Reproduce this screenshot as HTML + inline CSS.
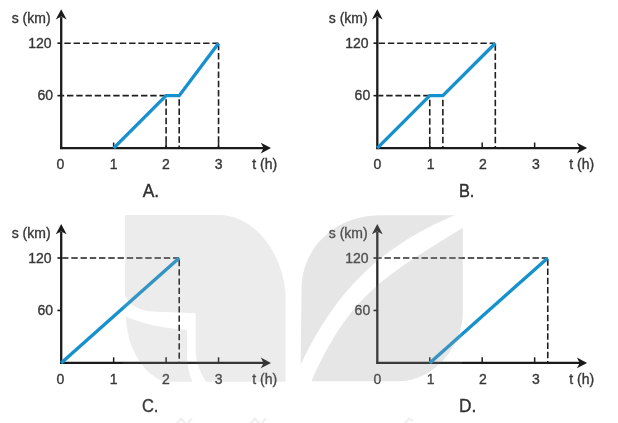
<!DOCTYPE html>
<html><head><meta charset="utf-8"><style>
html,body{margin:0;padding:0;background:#fff;}
svg{display:block;will-change:transform;filter:blur(0.3px);}
text{font-family:'Liberation Sans', Arial, sans-serif;stroke-width:0.35px;}
</style></head><body>
<svg width="618" height="423" viewBox="0 0 618 423">
<rect width="618" height="423" fill="#fff"/>
<line x1="62.20" y1="43.20" x2="218.55" y2="43.20" stroke="#1e1e1e" stroke-width="1.6" stroke-dasharray="6.4 2.85" stroke-dashoffset="7.10"/>
<line x1="62.20" y1="95.65" x2="179.21" y2="95.65" stroke="#1e1e1e" stroke-width="1.6" stroke-dasharray="6.4 2.85" stroke-dashoffset="4.45"/>
<line x1="166.10" y1="96.45" x2="166.10" y2="147.1" stroke="#1e1e1e" stroke-width="1.6" stroke-dasharray="6.4 2.85" stroke-dashoffset="6.45"/>
<line x1="179.21" y1="96.45" x2="179.21" y2="147.1" stroke="#1e1e1e" stroke-width="1.6" stroke-dasharray="6.4 2.85" stroke-dashoffset="6.45"/>
<line x1="218.55" y1="44.00" x2="218.55" y2="147.1" stroke="#1e1e1e" stroke-width="1.6" stroke-dasharray="6.4 2.85" stroke-dashoffset="0.25"/>
<line x1="57.40" y1="95.65" x2="61.2" y2="95.65" stroke="#1a1a1a" stroke-width="1.6"/>
<line x1="57.40" y1="43.20" x2="61.2" y2="43.20" stroke="#1a1a1a" stroke-width="1.6"/>
<line x1="113.65" y1="148.1" x2="113.65" y2="142.5" stroke="#1a1a1a" stroke-width="1.5"/>
<line x1="166.10" y1="148.1" x2="166.10" y2="142.5" stroke="#1a1a1a" stroke-width="1.5"/>
<line x1="218.55" y1="148.1" x2="218.55" y2="142.5" stroke="#1a1a1a" stroke-width="1.5"/>
<line x1="61.2" y1="149.1" x2="61.2" y2="17.10" stroke="#1a1a1a" stroke-width="2.3"/>
<line x1="60.2" y1="148.1" x2="264.2" y2="148.1" stroke="#1a1a1a" stroke-width="2.3"/>
<path d="M61.2,9.20 L66.60,19.40 L61.2,16.60 L55.80,19.40 Z" fill="#1a1a1a"/>
<path d="M271.0,148.1 L260.8,142.7 L263.6,148.1 L260.8,153.5 Z" fill="#1a1a1a"/>
<polyline points="113.65,148.10 166.10,95.65 179.21,95.65 218.55,43.20" fill="none" stroke="#1791cd" stroke-width="3.4" stroke-linejoin="miter" stroke-linecap="butt"/>
<text x="11.70" y="23.0" font-size="14" fill="#363636" stroke="#363636">s (km)</text>
<text x="51.5" y="48.0" font-size="14" fill="#363636" stroke="#363636" text-anchor="end">120</text>
<text x="53.1" y="100.3" font-size="14" fill="#363636" stroke="#363636" text-anchor="end">60</text>
<text x="60.40" y="168.9" font-size="14" fill="#363636" stroke="#363636" text-anchor="middle">0</text>
<text x="113.55" y="168.9" font-size="14" fill="#363636" stroke="#363636" text-anchor="middle">1</text>
<text x="165.80" y="168.9" font-size="14" fill="#363636" stroke="#363636" text-anchor="middle">2</text>
<text x="218.75" y="168.9" font-size="14" fill="#363636" stroke="#363636" text-anchor="middle">3</text>
<text x="252.2" y="168.9" font-size="14" fill="#363636" stroke="#363636">t (h)</text>
<text transform="translate(142.70,197.0) scale(0.98,1)" font-size="17.8" fill="#2e2e2e" stroke="#2e2e2e">A.</text>
<line x1="378.30" y1="43.20" x2="495.31" y2="43.20" stroke="#1e1e1e" stroke-width="1.6" stroke-dasharray="6.4 2.85" stroke-dashoffset="8.90"/>
<line x1="378.30" y1="95.65" x2="442.86" y2="95.65" stroke="#1e1e1e" stroke-width="1.6" stroke-dasharray="6.4 2.85" stroke-dashoffset="1.35"/>
<line x1="429.75" y1="96.45" x2="429.75" y2="147.1" stroke="#1e1e1e" stroke-width="1.6" stroke-dasharray="6.4 2.85" stroke-dashoffset="5.85"/>
<line x1="442.86" y1="96.45" x2="442.86" y2="147.1" stroke="#1e1e1e" stroke-width="1.6" stroke-dasharray="6.4 2.85" stroke-dashoffset="5.85"/>
<line x1="495.31" y1="44.00" x2="495.31" y2="147.1" stroke="#1e1e1e" stroke-width="1.6" stroke-dasharray="6.4 2.85" stroke-dashoffset="9.00"/>
<line x1="373.5" y1="95.65" x2="377.3" y2="95.65" stroke="#1a1a1a" stroke-width="1.6"/>
<line x1="373.5" y1="43.20" x2="377.3" y2="43.20" stroke="#1a1a1a" stroke-width="1.6"/>
<line x1="429.75" y1="148.1" x2="429.75" y2="142.5" stroke="#1a1a1a" stroke-width="1.5"/>
<line x1="482.20" y1="148.1" x2="482.20" y2="142.5" stroke="#1a1a1a" stroke-width="1.5"/>
<line x1="534.65" y1="148.1" x2="534.65" y2="142.5" stroke="#1a1a1a" stroke-width="1.5"/>
<line x1="377.3" y1="149.1" x2="377.3" y2="17.10" stroke="#1a1a1a" stroke-width="2.3"/>
<line x1="376.3" y1="148.1" x2="580.3" y2="148.1" stroke="#1a1a1a" stroke-width="2.3"/>
<path d="M377.3,9.20 L382.7,19.40 L377.3,16.60 L371.90,19.40 Z" fill="#1a1a1a"/>
<path d="M587.1,148.1 L576.9,142.7 L579.7,148.1 L576.9,153.5 Z" fill="#1a1a1a"/>
<polyline points="377.30,148.10 429.75,95.65 442.86,95.65 495.31,43.20" fill="none" stroke="#1791cd" stroke-width="3.4" stroke-linejoin="miter" stroke-linecap="butt"/>
<text x="328.8" y="23.0" font-size="14" fill="#363636" stroke="#363636">s (km)</text>
<text x="368.6" y="48.0" font-size="14" fill="#363636" stroke="#363636" text-anchor="end">120</text>
<text x="370.2" y="100.3" font-size="14" fill="#363636" stroke="#363636" text-anchor="end">60</text>
<text x="377.50" y="168.9" font-size="14" fill="#363636" stroke="#363636" text-anchor="middle">0</text>
<text x="430.65" y="168.9" font-size="14" fill="#363636" stroke="#363636" text-anchor="middle">1</text>
<text x="482.90" y="168.9" font-size="14" fill="#363636" stroke="#363636" text-anchor="middle">2</text>
<text x="535.85" y="168.9" font-size="14" fill="#363636" stroke="#363636" text-anchor="middle">3</text>
<text x="569.3" y="168.9" font-size="14" fill="#363636" stroke="#363636">t (h)</text>
<text transform="translate(458.90,197.0) scale(0.92,1)" font-size="17.8" fill="#2e2e2e" stroke="#2e2e2e">B.</text>
<line x1="62.20" y1="258.00" x2="179.21" y2="258.00" stroke="#1e1e1e" stroke-width="1.6" stroke-dasharray="6.4 2.85" stroke-dashoffset="0.15"/>
<line x1="179.21" y1="258.80" x2="179.21" y2="361.9" stroke="#1e1e1e" stroke-width="1.6" stroke-dasharray="6.4 2.85" stroke-dashoffset="8.10"/>
<line x1="57.40" y1="310.45" x2="61.2" y2="310.45" stroke="#1a1a1a" stroke-width="1.6"/>
<line x1="57.40" y1="258.00" x2="61.2" y2="258.00" stroke="#1a1a1a" stroke-width="1.6"/>
<line x1="113.65" y1="362.9" x2="113.65" y2="357.30" stroke="#1a1a1a" stroke-width="1.5"/>
<line x1="166.10" y1="362.9" x2="166.10" y2="357.30" stroke="#1a1a1a" stroke-width="1.5"/>
<line x1="218.55" y1="362.9" x2="218.55" y2="357.30" stroke="#1a1a1a" stroke-width="1.5"/>
<line x1="61.2" y1="363.9" x2="61.2" y2="231.90" stroke="#1a1a1a" stroke-width="2.3"/>
<line x1="60.2" y1="362.9" x2="264.2" y2="362.9" stroke="#1a1a1a" stroke-width="2.3"/>
<path d="M61.2,224.00 L66.60,234.20 L61.2,231.40 L55.80,234.20 Z" fill="#1a1a1a"/>
<path d="M271.0,362.9 L260.8,357.5 L263.6,362.9 L260.8,368.30 Z" fill="#1a1a1a"/>
<polyline points="61.20,362.90 179.21,258.00" fill="none" stroke="#1791cd" stroke-width="3.4" stroke-linejoin="miter" stroke-linecap="butt"/>
<text x="11.70" y="237.8" font-size="14" fill="#363636" stroke="#363636">s (km)</text>
<text x="51.5" y="262.8" font-size="14" fill="#363636" stroke="#363636" text-anchor="end">120</text>
<text x="53.1" y="315.1" font-size="14" fill="#363636" stroke="#363636" text-anchor="end">60</text>
<text x="60.40" y="383.7" font-size="14" fill="#363636" stroke="#363636" text-anchor="middle">0</text>
<text x="113.55" y="383.7" font-size="14" fill="#363636" stroke="#363636" text-anchor="middle">1</text>
<text x="165.80" y="383.7" font-size="14" fill="#363636" stroke="#363636" text-anchor="middle">2</text>
<text x="218.75" y="383.7" font-size="14" fill="#363636" stroke="#363636" text-anchor="middle">3</text>
<text x="252.2" y="383.7" font-size="14" fill="#363636" stroke="#363636">t (h)</text>
<text transform="translate(141.90,411.8) scale(0.93,1)" font-size="17.8" fill="#2e2e2e" stroke="#2e2e2e">C.</text>
<line x1="378.30" y1="258.00" x2="547.76" y2="258.00" stroke="#1e1e1e" stroke-width="1.6" stroke-dasharray="6.4 2.85" stroke-dashoffset="3.05"/>
<line x1="547.76" y1="258.80" x2="547.76" y2="361.9" stroke="#1e1e1e" stroke-width="1.6" stroke-dasharray="6.4 2.85" stroke-dashoffset="8.80"/>
<line x1="373.5" y1="310.45" x2="377.3" y2="310.45" stroke="#1a1a1a" stroke-width="1.6"/>
<line x1="373.5" y1="258.00" x2="377.3" y2="258.00" stroke="#1a1a1a" stroke-width="1.6"/>
<line x1="429.75" y1="362.9" x2="429.75" y2="357.30" stroke="#1a1a1a" stroke-width="1.5"/>
<line x1="482.20" y1="362.9" x2="482.20" y2="357.30" stroke="#1a1a1a" stroke-width="1.5"/>
<line x1="534.65" y1="362.9" x2="534.65" y2="357.30" stroke="#1a1a1a" stroke-width="1.5"/>
<line x1="377.3" y1="363.9" x2="377.3" y2="231.90" stroke="#1a1a1a" stroke-width="2.3"/>
<line x1="376.3" y1="362.9" x2="580.3" y2="362.9" stroke="#1a1a1a" stroke-width="2.3"/>
<path d="M377.3,224.00 L382.7,234.20 L377.3,231.40 L371.90,234.20 Z" fill="#1a1a1a"/>
<path d="M587.1,362.9 L576.9,357.5 L579.7,362.9 L576.9,368.30 Z" fill="#1a1a1a"/>
<polyline points="429.75,362.90 547.76,258.00" fill="none" stroke="#1791cd" stroke-width="3.4" stroke-linejoin="miter" stroke-linecap="butt"/>
<text x="328.8" y="237.8" font-size="14" fill="#363636" stroke="#363636">s (km)</text>
<text x="368.6" y="262.8" font-size="14" fill="#363636" stroke="#363636" text-anchor="end">120</text>
<text x="370.2" y="315.1" font-size="14" fill="#363636" stroke="#363636" text-anchor="end">60</text>
<text x="377.50" y="383.7" font-size="14" fill="#363636" stroke="#363636" text-anchor="middle">0</text>
<text x="430.65" y="383.7" font-size="14" fill="#363636" stroke="#363636" text-anchor="middle">1</text>
<text x="482.90" y="383.7" font-size="14" fill="#363636" stroke="#363636" text-anchor="middle">2</text>
<text x="535.85" y="383.7" font-size="14" fill="#363636" stroke="#363636" text-anchor="middle">3</text>
<text x="569.3" y="383.7" font-size="14" fill="#363636" stroke="#363636">t (h)</text>
<text transform="translate(459.10,411.8) scale(0.97,1)" font-size="17.8" fill="#2e2e2e" stroke="#2e2e2e">D.</text>
<g>
<rect x="123.5" y="212" width="338.5" height="211" fill="#fff" fill-opacity="0.07"/>
<g fill="#808080" fill-opacity="0.15">
<path d="M124.9,215 H219 C255,215 285.6,255 285.6,300 V381.8 H206 C200,372 195.7,362 195.7,350 V313.2 L178,312.5 C160,312 150,311.7 145,310.5 C135,308 127,302 124.9,295 Z"/>
<path d="M125.8,316.5 C140,323 160,328 187,330 V355 C187,365 189,374 192.5,381.8 H164 C140,372 127,345 125.8,316 Z"/>
</g>
<g fill="#808080" fill-opacity="0.20">
<path d="M300.7,364.6 L301.5,290 C301.5,247 336,215.2 380,215.2 H454.6 C379.3,247 335,292 300.7,364.6 Z"/>
<path d="M462.8,227.7 V313.7 C462.9,345.7 433.4,381.2 400,381.2 H311.5 C350,295 383,277 462.8,227.7 Z"/>
</g>
<g fill="none" stroke="#000" stroke-opacity="0.06" stroke-width="2.4">
<path d="M176,424 L181,418.8 L186,424 M188,422.5 L192,418.5"/>
<path d="M250,424 L255,418.8 L260,424 M262,422.5 L266,418.5"/>
<path d="M404,424 L409,418.5 L413,421"/>
</g></g>
</svg>
</body></html>
